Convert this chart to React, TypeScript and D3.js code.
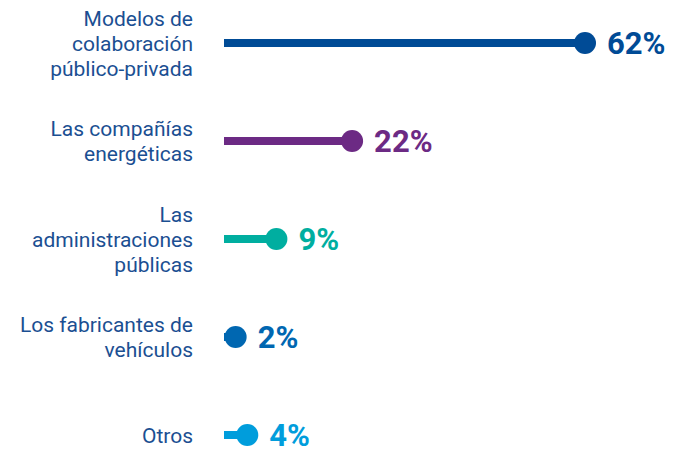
import * as d3 from "d3";

const categories = [
  ["Modelos de", "colaboración", "público-privada"],
  ["Las compañías", "energéticas"],
  ["Las", "administraciones", "públicas"],
  ["Los fabricantes de", "vehículos"],
  ["Otros"],
];
const values = [62, 22, 9, 2, 4];
const colors = ["#004b96", "#6c2a84", "#00aea0", "#0067b1", "#009ddc"];

const W = 686;
const H = 452;

export default function App() {
  const x = d3.scaleLinear().domain([0, 62]).range([224, 585]);
  const y = d3.scalePoint<number>().domain(d3.range(values.length)).range([43, 435]);
  const lh = 25;

  return (
    <svg width={W} height={H} style={{ position: "absolute", left: 0, top: 0 }}>
      {values.map((v, i) => {
        const cy = y(i)!;
        const lines = categories[i];
        const top = cy - ((lines.length - 1) * lh) / 2;
        return (
          <g key={i}>
            <text
              textAnchor="end"
              fontFamily="Roboto, sans-serif"
              fontSize={21}
              fill="#1b4f92"
            >
              {lines.map((l, j) => (
                <tspan key={j} x={193} y={top + j * lh} dy="0.36em">
                  {l}
                </tspan>
              ))}
            </text>
            <line x1={x(0)} x2={x(v)} y1={cy} y2={cy} stroke={colors[i]} strokeWidth={8} />
            <circle cx={x(v)} cy={cy} r={11} fill={colors[i]} />
            <text
              x={x(v) + 22}
              y={cy}
              dy="0.36em"
              fontFamily="Roboto, sans-serif"
              fontWeight="bold"
              fontSize={31}
              fill={colors[i]}
            >
              {v}%
            </text>
          </g>
        );
      })}
    </svg>
  );
}
